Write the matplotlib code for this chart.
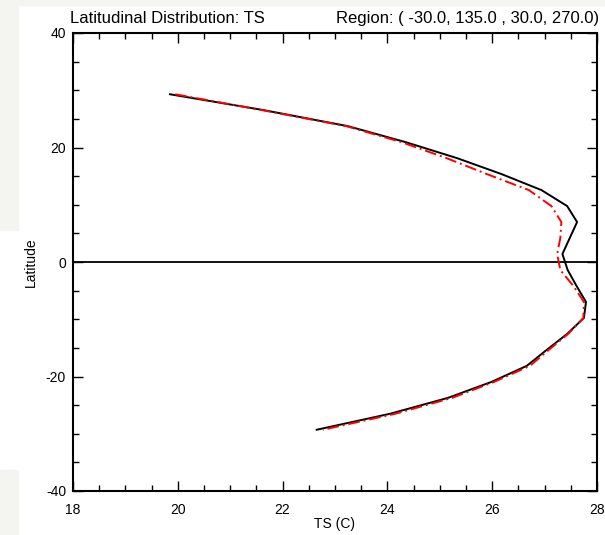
import matplotlib
matplotlib.use('Agg')
from matplotlib import pyplot as plt
from matplotlib.patches import Rectangle
from matplotlib.ticker import MultipleLocator

plt.rcParams['font.family'] = ['Liberation Sans', 'DejaVu Sans']
plt.rcParams['axes.unicode_minus'] = False

# gaussian grid latitudes (north to south)
lat = [29.30, 26.51, 23.72, 20.93, 18.14, 15.35, 12.56, 9.77, 6.98, 4.19, 1.40,
       -1.40, -4.19, -6.98, -9.77, -12.56, -15.35, -18.14, -20.93, -23.72, -26.51, -29.30]

ts_black = [19.85, 21.65, 23.25, 24.35, 25.33, 26.18, 26.94, 27.43, 27.62, 27.48, 27.34,
            27.44, 27.61, 27.79, 27.75, 27.43, 27.04, 26.66, 25.99, 25.16, 24.05, 22.65]
ts_red = [19.95, 21.62, 23.22, 24.27, 25.13, 25.90, 26.70, 27.13, 27.32, 27.30, 27.24,
          27.30, 27.55, 27.75, 27.74, 27.45, 27.08, 26.72, 26.04, 25.24, 24.15, 22.77]

title_left = 'Latitudinal Distribution: TS'
title_right = 'Region: ( -30.0, 135.0 , 30.0, 270.0)'

fig = plt.figure(figsize=(6.05, 5.35), dpi=100)
fig.patch.set_facecolor('white')
# grey page strips round the plot
for (x0, y0, w, h) in [(0, 0, 18, 65), (0, 305, 18, 230), (0, 530, 605, 5)]:
    fig.patches.append(Rectangle((x0 / 605, y0 / 535), w / 605, h / 535,
                                 transform=fig.transFigure, color='#f4f4f1', zorder=0))

ax = fig.add_axes([73 / 605, 1 - 491 / 535, 524 / 605, 458 / 535])

ax.plot(ts_black, lat, color='black', lw=1.4, zorder=3)
ax.plot(ts_red, lat, color='red', lw=1.4, ls=(0, (6, 2, 1, 2)), zorder=4)
ax.axhline(0, color='black', lw=1.3)

ax.set_xlim(18, 28)
ax.set_ylim(-40, 40)
ax.xaxis.set_major_locator(MultipleLocator(2))
ax.xaxis.set_minor_locator(MultipleLocator(0.5))
ax.yaxis.set_major_locator(MultipleLocator(20))
ax.yaxis.set_minor_locator(MultipleLocator(5))
ax.tick_params(which='both', direction='in', top=True, right=True, labelsize=10, width=1)
ax.tick_params(which='major', length=7)
ax.tick_params(which='minor', length=4)
ax.tick_params(axis='x', which='major', pad=8.5)
ax.tick_params(axis='y', which='major', pad=5)
for s in ax.spines.values():
    s.set_linewidth(1.5)

ax.set_xlabel('TS (C)', fontsize=10, labelpad=0)
ax.set_ylabel('Latitude', fontsize=10, labelpad=6)
ax.set_title(title_left, loc='left', fontsize=12, pad=7, x=-0.005)
ax.set_title(title_right, loc='right', fontsize=12, pad=7, x=1.005)

fig.savefig('out.png', dpi=100)
